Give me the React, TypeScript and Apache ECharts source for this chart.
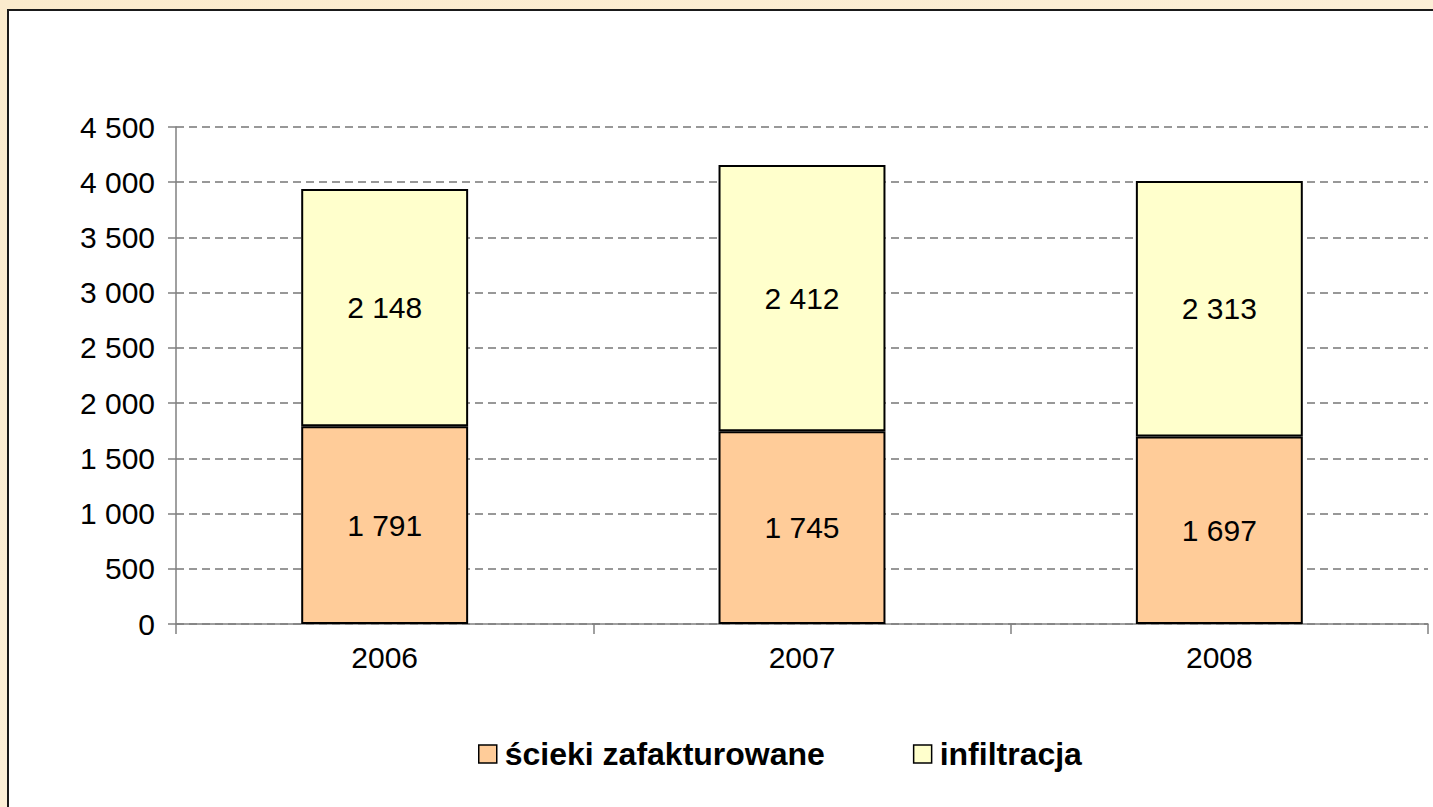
import React, { useEffect, useRef } from "react";
import * as echarts from "echarts";

const categories = ["2006", "2007", "2008"];
const seriesNames = ["ścieki zafakturowane", "infiltracja"];
const billed = [1791, 1745, 1697];
const infiltration = [2148, 2412, 2313];
const yMin = 0;
const yMax = 4500;
const yInterval = 500;

const fmt = (v: number) => {
  const s = String(Math.round(v));
  return s.replace(/\B(?=(\d{3})+(?!\d))/g, " ");
};

const FONT = "'Liberation Sans', Arial, sans-serif";

export default function App() {
  const ref = useRef<HTMLDivElement>(null);
  useEffect(() => {
    if (!ref.current) return;
    const chart = echarts.init(ref.current, undefined, { renderer: "svg" });
    chart.setOption({
      animation: false,
      backgroundColor: {
        type: "linear",
        x: 0,
        y: 0,
        x2: 1,
        y2: 1,
        colorStops: [
          { offset: 0, color: "#FBEBCD" },
          { offset: 1, color: "#FDF3E0" },
        ],
      },
      graphic: [
        {
          type: "rect",
          z: -10,
          shape: { x: 8, y: 10, width: 1500, height: 900 },
          style: { fill: "#FFFFFF", stroke: "#1a1a1a", lineWidth: 2 },
        },
      ],
      grid: { left: 176, right: 5, top: 127, bottom: 183, containLabel: false },
      legend: {
        left: 473,
        top: 733,
        itemWidth: 18,
        itemHeight: 18,
        itemGap: 88,
        icon: "rect",
        textStyle: {
          fontFamily: FONT,
          fontSize: 32,
          fontWeight: "bold",
          color: "#000",
          padding: [0, 0, 0, 3],
        },
        itemStyle: { borderColor: "#000", borderWidth: 1.5 },
        data: seriesNames,
      },
      xAxis: {
        type: "category",
        data: categories,
        axisLine: { lineStyle: { color: "#808080", width: 1.5 } },
        axisTick: { show: true, length: 10, lineStyle: { color: "#808080", width: 1.5 } },
        axisLabel: { fontFamily: FONT, fontSize: 30, color: "#000", margin: 18 },
        splitLine: { show: false },
      },
      yAxis: {
        type: "value",
        min: yMin,
        max: yMax,
        interval: yInterval,
        axisLine: { show: true, lineStyle: { color: "#808080", width: 1.5 } },
        axisTick: { show: true, length: 8, lineStyle: { color: "#808080", width: 1.5 } },
        axisLabel: {
          fontFamily: FONT,
          fontSize: 30,
          color: "#000",
          margin: 21,
          formatter: (v: number) => fmt(v),
        },
        splitLine: {
          show: true,
          lineStyle: { color: "#777777", type: [8, 5], width: 1.5 },
        },
      },
      series: [
        {
          name: seriesNames[0],
          type: "bar",
          stack: "total",
          barWidth: "40%",
          data: billed,
          itemStyle: { color: "#FFCC99", borderColor: "#000", borderWidth: 2 },
          label: {
            show: true,
            position: "inside",
            fontFamily: FONT,
            fontSize: 30,
            color: "#000",
            formatter: (p: any) => fmt(p.value),
          },
        },
        {
          name: seriesNames[1],
          type: "bar",
          stack: "total",
          barWidth: "40%",
          data: infiltration,
          itemStyle: { color: "#FFFFCC", borderColor: "#000", borderWidth: 2 },
          label: {
            show: true,
            position: "inside",
            fontFamily: FONT,
            fontSize: 30,
            color: "#000",
            formatter: (p: any) => fmt(p.value),
          },
        },
      ],
    });
    return () => chart.dispose();
  }, []);
  return (
    <div
      ref={ref}
      style={{ position: "fixed", left: 0, top: 0, width: 1433, height: 807 }}
    />
  );
}
